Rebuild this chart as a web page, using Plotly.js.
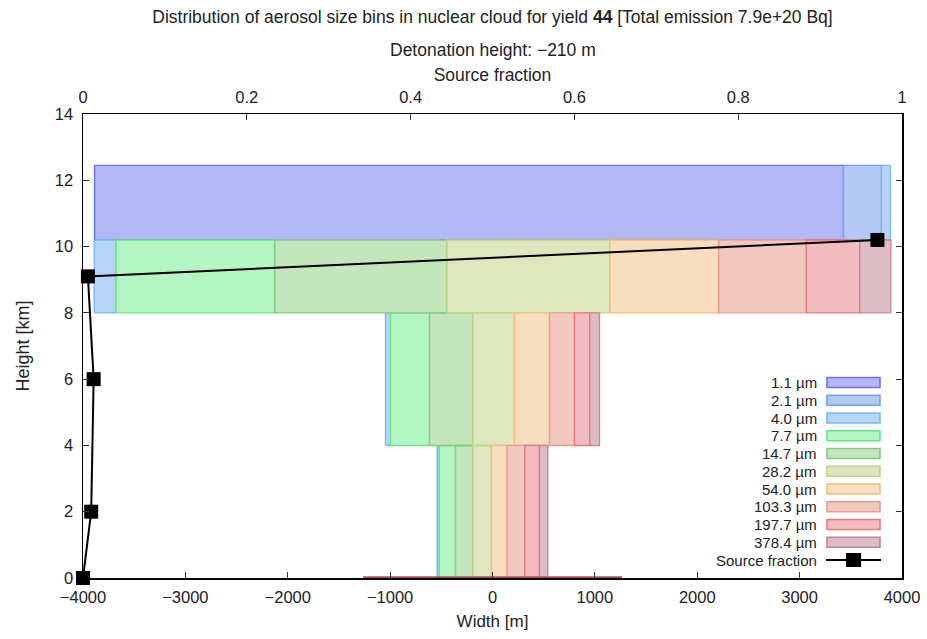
<!DOCTYPE html>
<html>
<head>
<meta charset="utf-8">
<script src="https://cdn.plot.ly/plotly-3.0.1.min.js"></script>
<style>html,body{margin:0;padding:0;background:#fff;}#chart{width:927px;height:639px;}</style>
</head>
<body>
<div id="chart"></div>
<script>
// ---- data ----
const binLabels = ['1.1 µm','2.1 µm','4.0 µm','7.7 µm','14.7 µm','28.2 µm','54.0 µm','103.3 µm','197.7 µm','378.4 µm'];
const layerBottom = [10.2, 8.0, 4.0, 0.0];
const layerTop    = [12.45, 10.2, 8.0, 4.0];
// width [m] of each size bin within each layer (stacked left to right, centred on 0)
const widthsLayer1 = [7316, 371, 88, 0, 0, 0, 0, 0, 0, 0];
const widthsLayer2 = [0, 0, 212, 1552, 1681, 1591, 1064, 856, 521, 303];
const widthsLayer3 = [0, 0, 49, 381, 423, 407, 342, 244, 149, 95];
const widthsLayer4 = [0, 0, 20, 159, 169, 182, 153, 173, 143, 81];
const groundWidth = 2530; // surface layer at 0 km
const fracHeight = [0, 2, 6, 9.1, 10.2];
const fracValue  = [0, 0.010, 0.013, 0.006, 0.970];

// ---- styles ----
const fillColors = ['#b4b7f5','#b4c8f4','#b7d6f7','#b4f5c4','#c3e6bd','#dee6be','#f8debe','#f3c8be','#f2bcc0','#debcc3'];
const lineColors = ['#7070f0','#74a0f0','#7cb6f5','#68e68a','#84cc84','#c2d288','#f0bf7c','#eb9c8c','#e67a84','#c48692'];

const layerWidths = [widthsLayer1, widthsLayer2, widthsLayer3, widthsLayer4];
const traces = [];
for (let b = 0; b < binLabels.length; b++) {
  const xs = [], ys = [];
  layerWidths.forEach((w, L) => {
    if (!w[b]) return;
    const total = w.reduce((a, c) => a + c, 0);
    let left = -total / 2;
    for (let k = 0; k < b; k++) left += w[k];
    const right = left + w[b];
    xs.push(left, right, right, left, left, null);
    ys.push(layerBottom[L], layerBottom[L], layerTop[L], layerTop[L], layerBottom[L], null);
  });
  traces.push({
    type: 'scatter', mode: 'lines', x: xs, y: ys, fill: 'toself',
    fillcolor: fillColors[b], line: {color: lineColors[b], width: 1.4},
    name: binLabels[b], showlegend: false, hoverinfo: 'skip'
  });
}
// ground layer
traces.push({
  type: 'scatter', mode: 'lines', x: [-groundWidth / 2, groundWidth / 2], y: [0, 0],
  line: {color: '#a8505e', width: 3.5}, showlegend: false, hoverinfo: 'skip', cliponaxis: false
});
// source fraction
traces.push({
  type: 'scatter', mode: 'lines+markers', x: fracValue, y: fracHeight, xaxis: 'x2', yaxis: 'y',
  line: {color: '#000', width: 2}, marker: {symbol: 'square', size: 14, color: '#000'},
  name: 'Source fraction', showlegend: false, cliponaxis: false
});

// ---- custom legend (gnuplot style: text then sample) ----
const PL = 83, PR = 902, PT = 114, PB = 578;
const px = v => (v - PL) / (PR - PL);
const py = v => (PB - v) / (PB - PT);
const shapes = [], annotations = [];
const legendY0 = 382.5, legendDy = 17.75;
const FS = 15;
binLabels.forEach((lab, i) => {
  const yc = legendY0 + i * legendDy;
  annotations.push({xref: 'paper', yref: 'paper', x: px(818), y: py(yc), xanchor: 'right', yanchor: 'middle',
    text: lab, showarrow: false, font: {size: FS, color: '#222'}, borderpad: 0});
  shapes.push({type: 'rect', xref: 'paper', yref: 'paper', x0: px(827), x1: px(880), y0: py(yc - 5), y1: py(yc + 5),
    fillcolor: fillColors[i], line: {color: lineColors[i], width: 1.6}});
});
const sfY = legendY0 + binLabels.length * legendDy;
annotations.push({xref: 'paper', yref: 'paper', x: px(818), y: py(sfY), xanchor: 'right', yanchor: 'middle',
  text: 'Source fraction', showarrow: false, font: {size: FS, color: '#222'}, borderpad: 0});
shapes.push({type: 'line', xref: 'paper', yref: 'paper', x0: px(826), x1: px(881), y0: py(sfY), y1: py(sfY),
  line: {color: '#000', width: 2}});
shapes.push({type: 'rect', xref: 'paper', yref: 'paper', x0: px(846), x1: px(861), y0: py(sfY - 7), y1: py(sfY + 7),
  fillcolor: '#000', line: {color: '#000', width: 0}});

annotations.push({xref: 'paper', yref: 'paper', x: 0.5, y: py(50), xanchor: 'center', yanchor: 'middle',
  text: 'Detonation height: −210 m', showarrow: false, font: {size: 17.5, color: '#222'}});

const axisCommon = {
  showgrid: false, zeroline: false, showline: true, linecolor: '#000', linewidth: 1.5,
  ticks: 'inside', ticklen: 6, tickcolor: '#333', tickwidth: 1,
  tickfont: {size: 16.5, color: '#222'}
};

const layout = {
  width: 927, height: 639,
  margin: {l: PL, r: 927 - PR, t: PT, b: 639 - PB},
  paper_bgcolor: '#fff', plot_bgcolor: '#fff',
  font: {family: '"Liberation Sans", Arial, sans-serif', color: '#222'},
  title: {text: 'Distribution of aerosol size bins in nuclear cloud for yield <b>44</b> [Total emission 7.9e+20 Bq]',
    x: 0.5, xref: 'paper', xanchor: 'center', y: 1 - 17 / 639, yref: 'container', yanchor: 'middle',
    font: {size: 17.5, color: '#222'}},
  xaxis: Object.assign({}, axisCommon, {range: [-4000, 4000], dtick: 1000, tick0: 0, mirror: false,
    ticklabelstandoff: 4,
    title: {text: 'Width [m]', font: {size: 17, color: '#222'}, standoff: 10}}),
  xaxis2: Object.assign({}, axisCommon, {range: [0, 1], dtick: 0.2, tick0: 0, overlaying: 'x', side: 'top',
    ticklabelstandoff: 3,
    title: {text: 'Source fraction', font: {size: 17.5, color: '#222'}, standoff: 2}}),
  yaxis: Object.assign({}, axisCommon, {range: [0, 14], dtick: 2, tick0: 0, mirror: 'ticks',
    ticklabelstandoff: 5,
    title: {text: 'Height [km]', font: {size: 18, color: '#222'}, standoff: 20}}),
  shapes: shapes, annotations: annotations, showlegend: false
};

Plotly.newPlot('chart', traces, layout, {displayModeBar: false, staticPlot: true});
</script>
</body>
</html>
